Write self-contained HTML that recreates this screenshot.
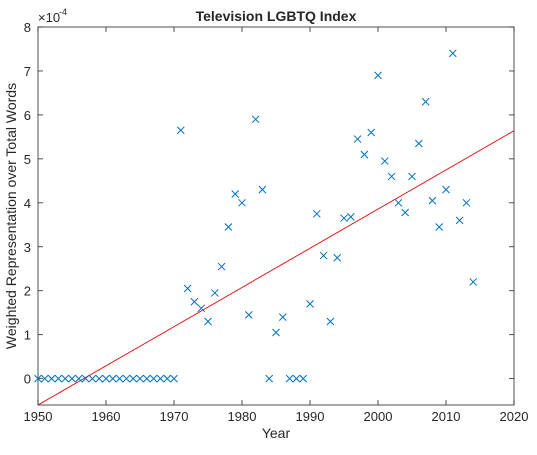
<!DOCTYPE html>
<html><head><meta charset="utf-8"><style>
body{margin:0;background:#fff}
svg text{font-family:"Liberation Sans",sans-serif;fill:#262626}
</style></head><body>
<svg width="537" height="450">
<g id="g"></g>
</svg>
<script>
const years=[1950,1951,1952,1953,1954,1955,1956,1957,1958,1959,1960,1961,1962,1963,1964,1965,1966,1967,1968,1969,1970,1971,1972,1973,1974,1975,1976,1977,1978,1979,1980,1981,1982,1983,1984,1985,1986,1987,1988,1989,1990,1991,1992,1993,1994,1995,1996,1997,1998,1999,2000,2001,2002,2003,2004,2005,2006,2007,2008,2009,2010,2011,2012,2013,2014];
const values=[0,0,0,0,0,0,0,0,0,0,0,0,0,0,0,0,0,0,0,0,0,5.65,2.05,1.75,1.6,1.3,1.95,2.55,3.45,4.2,4.0,1.45,5.9,4.3,0,1.05,1.4,0,0,0,1.7,3.75,2.8,1.3,2.75,3.65,3.68,5.45,5.1,5.6,6.9,4.95,4.6,4.0,3.78,4.6,5.35,6.3,4.05,3.45,4.3,7.4,3.6,4.0,2.2];
const fitLine=[[1950,-0.6],[2020,5.64]];
const xTicks=[1950,1960,1970,1980,1990,2000,2010,2020];
const yTicks=[0,1,2,3,4,5,6,7,8];
const X0=38,X1=514,Y0=27,Y1=405,xmin=1950,xmax=2020,ymin=-0.6,ymax=8;
const sx=v=>X0+(v-xmin)/(xmax-xmin)*(X1-X0);
const sy=v=>Y1-(v-ymin)/(ymax-ymin)*(Y1-Y0);
const g=document.getElementById('g');
const NS='http://www.w3.org/2000/svg';
function el(t,a,txt){const e=document.createElementNS(NS,t);for(const k in a)e.setAttribute(k,a[k]);if(txt!=null)e.textContent=txt;g.appendChild(e);return e;}
let r=el('rect',{x:X0,y:Y0,width:X1-X0,height:Y1-Y0,fill:'#fff',stroke:'#262626','stroke-width':0.8});


xTicks.forEach(t=>{const x=sx(t);
let l=el('line',{x1:x,x2:x,y1:Y1,y2:Y1-5,stroke:'#262626','stroke-width':0.8});


el('line',{x1:x,x2:x,y1:Y0,y2:Y0+5,stroke:'#262626','stroke-width':0.8});
let tx=el('text',{x:x,y:Y1+16,'font-size':13,'text-anchor':'middle'},t);

});
yTicks.forEach(t=>{const y=sy(t);
let l=el('line',{x1:X0,x2:X0+5,y1:y,y2:y,stroke:'#262626','stroke-width':0.8});


el('line',{x1:X1,x2:X1-5,y1:y,y2:y,stroke:'#262626','stroke-width':0.8});
let tx=el('text',{x:X0-7,y:y+5,'font-size':13,'text-anchor':'end'},t);

});
let fl=el('line',{x1:sx(fitLine[0][0]),y1:sy(fitLine[0][1]),x2:sx(fitLine[1][0]),y2:sy(fitLine[1][1]),stroke:'#e00000','stroke-width':0.9});


years.forEach((yr,i)=>{const x=sx(yr),y=sy(values[i]),d=3.5;
let p=el('path',{d:`M${x-d},${y-d}L${x+d},${y+d}M${x-d},${y+d}L${x+d},${y-d}`,stroke:'#0072bd','stroke-width':1,fill:'none'});

});
let t1=el('text',{x:276,y:21,'font-size':14,'font-weight':'bold','text-anchor':'middle',fill:'#000'},'Television LGBTQ Index');


let t2=el('text',{x:276,y:438,'font-size':14,'text-anchor':'middle'},'Year');


let t3=el('text',{x:0,y:0,'font-size':14,'text-anchor':'middle',transform:`translate(16,${(Y0+Y1)/2}) rotate(-90)`},'Weighted Representation over Total Words');


let t4=el('text',{x:38,y:22,'font-size':13},'\u00d710');


el('text',{x:59,y:15,'font-size':9},'-4');
</script>
</body></html>
